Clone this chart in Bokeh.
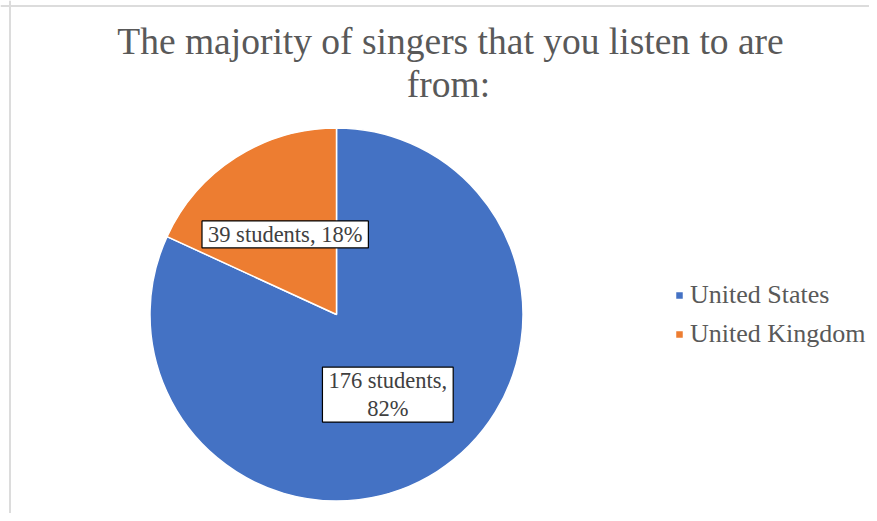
import math
from bokeh.plotting import figure
from bokeh.models import ColumnDataSource, Label, Legend, LegendItem, Span
from bokeh.embed import file_html
from bokeh.resources import INLINE

# ---- data ----
title_lines = ["The majority of singers that you listen to are", "from:"]
countries = ["United States", "United Kingdom"]
students = [176, 39]
colors = ["#4472C4", "#ED7D31"]
wrap_label = [True, False]

# ---- layout ----
W, H = 869, 513
CX, CY, R = 336, 199, 186.5
FONT = "Liberation Serif"

total = sum(students)
pcts = [round(100 * s / total) for s in students]
starts, ends, mids = [], [], []
cum = 0
for s in students:
    a0 = math.pi / 2 - 2 * math.pi * cum / total
    cum += s
    a1 = math.pi / 2 - 2 * math.pi * cum / total
    starts.append(a0)
    ends.append(a1)
    mids.append((a0 + a1) / 2)

src = ColumnDataSource(dict(country=countries, students=students, color=colors,
                            start=starts, end=ends))

p = figure(width=W, height=H, x_range=(0, W), y_range=(0, H),
           x_axis_type=None, y_axis_type=None, output_backend="svg",
           toolbar_location=None, min_border=0)
p.outline_line_color = None
p.background_fill_color = "white"
p.border_fill_color = "white"

# chart border (top and left visible)
p.add_layout(Span(location=H - 5.5, dimension="width", line_color="#dcdcdc", line_width=2))
p.add_layout(Span(location=9.5, dimension="height", line_color="#dcdcdc", line_width=2))

r = p.wedge(x=CX, y=CY, radius=R, start_angle="start", end_angle="end",
            direction="clock", fill_color="color", line_color="white",
            line_width=1.5, source=src)

# title
p.add_layout(Label(x=450, y=472, text=title_lines[0], text_align="center",
                   text_baseline="alphabetic", text_font=FONT,
                   text_font_size="37.5px", text_color="#595959"))
p.add_layout(Label(x=448, y=429, text=title_lines[1], text_align="center",
                   text_baseline="alphabetic", text_font=FONT,
                   text_font_size="37.5px", text_color="#595959"))

# data labels
for s, pc, m, wrap in zip(students, pcts, mids, wrap_label):
    txt = f"{s} students,\n{pc}%" if wrap else f"{s} students, {pc}%"
    lx = CX + 0.51 * R * math.cos(m)
    ly = CY + 0.51 * R * math.sin(m)
    p.add_layout(Label(x=lx, y=ly, text=txt, text_align="center",
                       text_baseline="middle", text_font=FONT,
                       text_font_size="22.5px", text_color="#404040",
                       text_line_height=1.12,
                       background_fill_color="white",
                       border_line_color="black", border_line_width=1.2,
                       padding=(6, 1)))

legend = Legend(items=[LegendItem(label=c, renderers=[r], index=i)
                       for i, c in enumerate(countries)],
                location=(674, 164), orientation="vertical",
                label_text_font=FONT, label_text_font_size="26px",
                label_text_color="#595959", glyph_width=10, glyph_height=10,
                label_standoff=6, spacing=9, padding=0, margin=0,
                border_line_color=None, background_fill_alpha=0)
p.add_layout(legend)

open("out.html", "w").write(file_html(p, INLINE))
